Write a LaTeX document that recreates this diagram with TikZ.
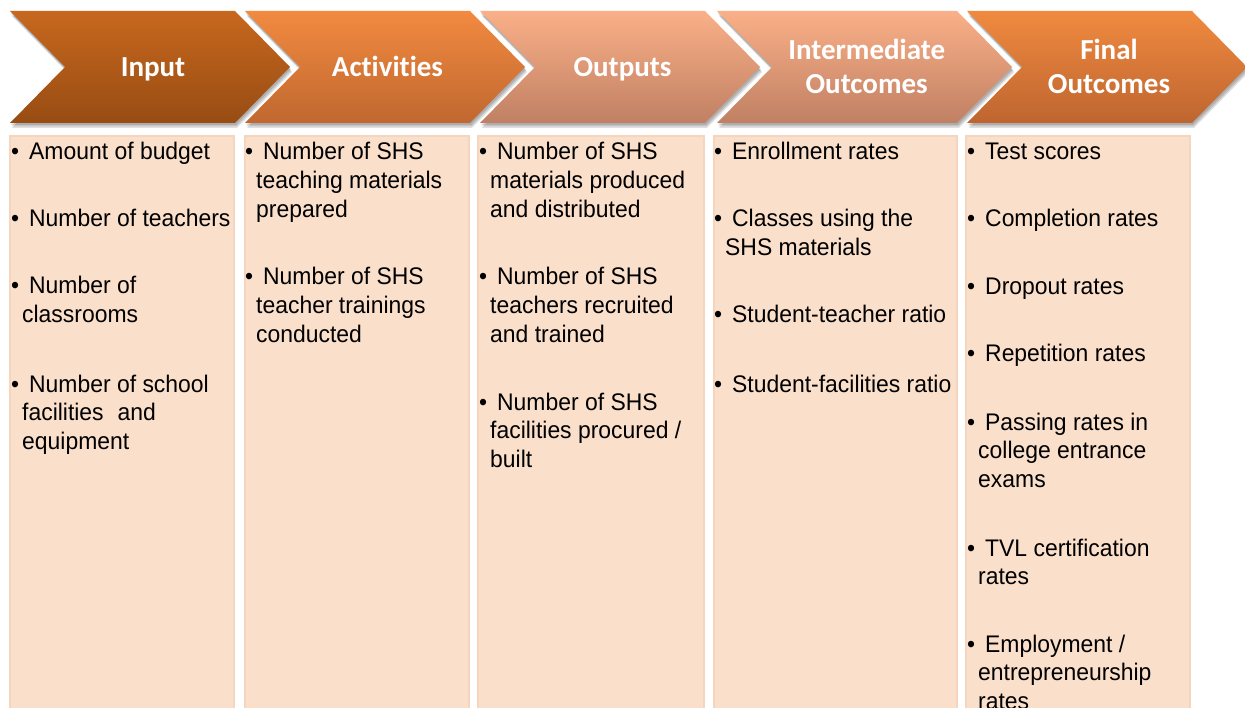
\documentclass[tikz,border=0pt]{standalone}
\usepackage{fontspec}
\setmainfont{Liberation Sans}[FakeStretch=0.955]
\newfontfamily\hdrfont{Carlito}[Ligatures=NoCommon]
\definecolor{cat}{HTML}{C7681E}
\definecolor{cab}{HTML}{984C13}
\definecolor{cbt}{HTML}{F28A40}
\definecolor{cbb}{HTML}{C06830}
\definecolor{cct}{HTML}{FAB088}
\definecolor{ccb}{HTML}{C08063}
\definecolor{cdt}{HTML}{FAB088}
\definecolor{cdb}{HTML}{C08063}
\definecolor{cet}{HTML}{F08A3F}
\definecolor{ceb}{HTML}{BE6530}
\definecolor{boxfill}{HTML}{FADFCB}
\definecolor{boxedge}{HTML}{F5D5BE}
\newcommand\bul{\llap{\makebox[11pt][l]{•}}\hspace*{7pt}}
\begin{document}
\begin{tikzpicture}[x=1pt,y=-1pt,
  hdr/.style={font=\hdrfont\bfseries\fontsize{29}{34}\selectfont, text=white, align=center, inner sep=0pt, anchor=base},
  itm/.style={font=\fontsize{24}{28.8}\selectfont, text=black, align=left, inner sep=0pt, anchor=base west},
  colbox/.style={fill=boxfill, draw=boxedge, line width=1.5pt},
  shad/.style={fill=black, opacity=0.12}]
\useasboundingbox (0,0) rectangle (1245,708);
\clip (0,0) rectangle (1245,708);
% chevrons
\foreach \l/\r/\ct/\cb in {10/235/cat/cab, 245/470/cbt/cbb, 480/705/cct/ccb, 717/957/cdt/cdb, 967/1192/cet/ceb}{
  \foreach \d in {2,3.5,5}{
    \fill[shad] (\l+\d*0.4,11+\d) -- (\r+\d*0.4,11+\d) -- (\r+55+\d*0.4,67+\d) -- (\r+\d*0.4,123+\d) -- (\l+\d*0.4,123+\d) -- (\l+55+\d*0.4,67+\d) -- cycle;
  }
  \shade[top color=\ct, bottom color=\cb] (\l,11) -- (\r,11) -- (\r+55,67) -- (\r,123) -- (\l,123) -- (\l+55,67) -- cycle;
}
% multi-line nodes are anchored at the baseline of their last line
\node[hdr] (h1) at (153,77) {Input};
\node[hdr] (h2) at (387.5,77) {Activities};
\node[hdr] (h3) at (622.5,77) {Outputs};
\node[hdr] (h4) at (866.7,94) {Intermediate\\Outcomes};
\node[hdr] (h5) at (1109,94) {Final\\Outcomes};
% columns
\foreach \l/\r in {10/234, 245/469, 478/704, 714/957, 966/1190}{
  \draw[colbox] (\l,136) rectangle (\r,730);
}
% column 1
\node[itm] (a1) at (22,160) {\bul Amount of budget};
\node[itm] (a2) at (22,227) {\bul Number of teachers};
\node[itm] (a3) at (22,322.8) {\bul Number of\\classrooms};
\node[itm] (a4) at (22,449.6) {\bul Number of school\\facilities\hspace*{14pt}and\\equipment};
% column 2
\node[itm] (b1) at (256,217.6) {\bul Number of SHS\\teaching materials\\prepared};
\node[itm] (b2) at (256,342.6) {\bul Number of SHS\\teacher trainings\\conducted};
% column 3
\node[itm] (c1) at (490,217.6) {\bul Number of SHS\\materials produced\\and distributed};
\node[itm] (c2) at (490,342.6) {\bul Number of SHS\\teachers recruited\\and trained};
\node[itm] (c3) at (490,467.6) {\bul Number of SHS\\facilities procured /\\built};
% column 4
\node[itm] (d1) at (725,160) {\bul Enrollment rates};
\node[itm] (d2) at (725,255.8) {\bul Classes using the\\SHS materials};
\node[itm] (d3) at (725,323) {\bul Student-teacher ratio};
\node[itm] (d4) at (725,392) {\bul Student-facilities ratio};
% column 5
\node[itm] (e1) at (978,160) {\bul Test scores};
\node[itm] (e2) at (978,227) {\bul Completion rates};
\node[itm] (e3) at (978,295) {\bul Dropout rates};
\node[itm] (e4) at (978,362) {\bul Repetition rates};
\node[itm] (e5) at (978,487.6) {\bul Passing rates in\\college entrance\\exams};
\node[itm] (e6) at (978,584.8) {\bul TVL certification\\rates};
\node[itm] (e7) at (978,709.6) {\bul Employment /\\entrepreneurship\\rates};
\end{tikzpicture}
\end{document}
